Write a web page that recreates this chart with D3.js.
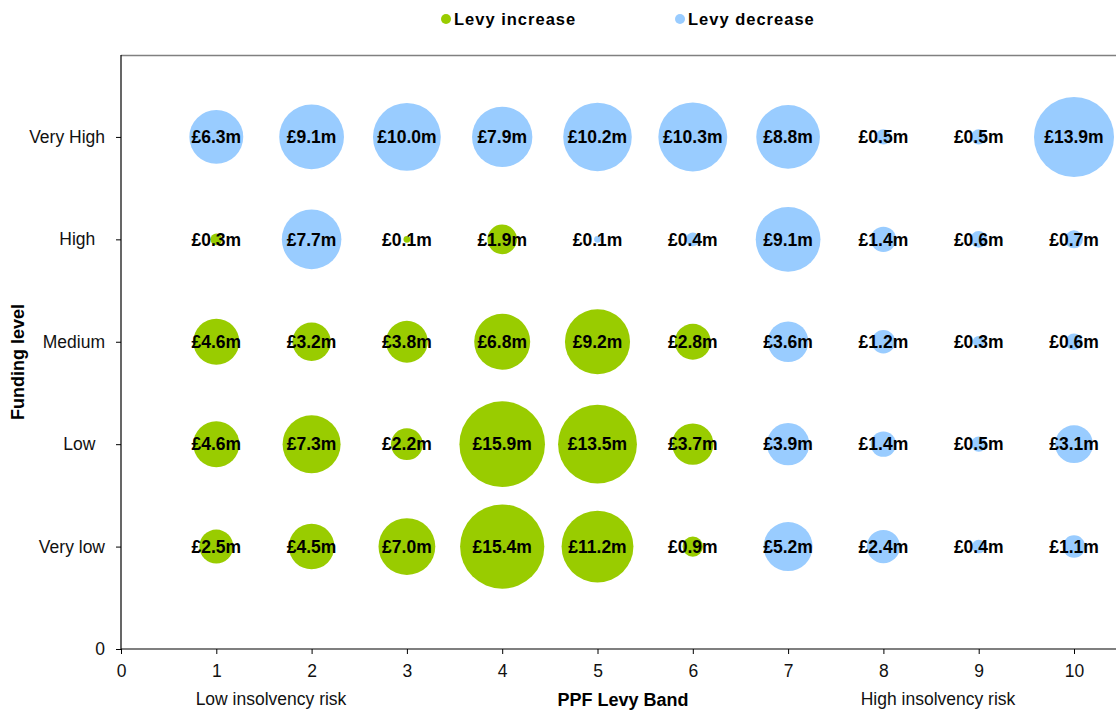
<!DOCTYPE html>
<html><head><meta charset="utf-8">
<script src="https://cdn.jsdelivr.net/npm/d3@7"></script>
<style>
body{margin:0;background:#fff;}
svg{display:block;font-family:"Liberation Sans",Arial,sans-serif;}
.ylab text{white-space:pre;}
</style></head>
<body><svg id="c" width="1116" height="713"></svg>
<script>
const bands = [1,2,3,4,5,6,7,8,9,10];
const levelLabels = ["0","Very low","Low  ","Medium","High  ","Very High"];
const xTicks = [0,1,2,3,4,5,6,7,8,9,10];
// values (£m) per funding level, bands 1..10; sign: "I" = increase, "D" = decrease
const veryHighVals = [6.3,9.1,10.0,7.9,10.2,10.3,8.8,0.5,0.5,13.9];
const veryHighType = ["D","D","D","D","D","D","D","D","D","D"];
const highVals = [0.3,7.7,0.1,1.9,0.1,0.4,9.1,1.4,0.6,0.7];
const highType = ["I","D","I","I","D","D","D","D","D","D"];
const mediumVals = [4.6,3.2,3.8,6.8,9.2,2.8,3.6,1.2,0.3,0.6];
const mediumType = ["I","I","I","I","I","I","D","D","D","D"];
const lowVals = [4.6,7.3,2.2,15.9,13.5,3.7,3.9,1.4,0.5,3.1];
const lowType = ["I","I","I","I","I","I","D","D","D","D"];
const veryLowVals = [2.5,4.5,7.0,15.4,11.2,0.9,5.2,2.4,0.4,1.1];
const veryLowType = ["I","I","I","I","I","I","D","D","D","D"];
const seriesNames = ["Levy increase","Levy decrease"];

const rows = [
  {level:1, vals:veryLowVals, types:veryLowType},
  {level:2, vals:lowVals, types:lowType},
  {level:3, vals:mediumVals, types:mediumType},
  {level:4, vals:highVals, types:highType},
  {level:5, vals:veryHighVals, types:veryHighType}
];
const points = [];
rows.forEach(r => bands.forEach((b,i) => points.push({band:b, level:r.level, v:r.vals[i], t:r.types[i]})));

const colors = {I:"#99CC00", D:"#99CCFF"};
const svg = d3.select("#c");
const x = d3.scaleLinear().domain([0,10.5]).range([121,121+10.5*95.3]);
const y = d3.scaleLinear().domain([0,5.8]).range([649,55]);
const r = d3.scaleSqrt().domain([0,15.9]).range([0,42.8]);
const FONT = "Liberation Sans, Arial, sans-serif";

// top border
svg.append("line").attr("x1",121).attr("x2",1116).attr("y1",55.5).attr("y2",55.5)
  .attr("stroke","#808080").attr("stroke-width",1.5);

// x axis
const xa = svg.append("g").attr("transform","translate(0,649)")
  .call(d3.axisBottom(x).tickValues(xTicks).tickSize(5).tickPadding(11).tickFormat(d3.format("d")));
xa.select(".domain").attr("stroke","#000").attr("stroke-width",1.2).attr("d","M121,0H1116");
xa.selectAll("text").attr("font-size",17.5).attr("fill","#111").attr("font-family",FONT);

// y axis
const ya = svg.append("g").attr("class","ylab").attr("transform","translate(121,0)")
  .call(d3.axisLeft(y).tickValues([0,1,2,3,4,5]).tickSize(5).tickPadding(11).tickFormat(d => levelLabels[d]));
ya.select(".domain").attr("stroke","#000").attr("stroke-width",1.2).attr("d","M0,55V649");
ya.selectAll("text").attr("font-size",17.5).attr("fill","#111").attr("font-family",FONT);

// bubbles
svg.append("g").selectAll("circle").data(points).join("circle")
  .attr("cx",d=>x(d.band)).attr("cy",d=>y(d.level)).attr("r",d=>r(d.v))
  .attr("fill",d=>colors[d.t]);

// labels
svg.append("g").selectAll("text").data(points).join("text")
  .attr("x",d=>x(d.band)).attr("y",d=>y(d.level)).attr("dy","0.36em")
  .attr("text-anchor","middle").attr("font-size",17.5).attr("font-weight","bold").attr("fill","#000")
  .text(d=>"£"+d.v.toFixed(1)+"m");

// axis titles
svg.append("text").attr("transform","translate(24,362) rotate(-90)").attr("text-anchor","middle")
  .attr("font-size",18).attr("font-weight","bold").text("Funding level");
svg.append("text").attr("x",623).attr("y",706).attr("text-anchor","middle")
  .attr("font-size",18).attr("font-weight","bold").text("PPF Levy Band");
svg.append("text").attr("x",271).attr("y",705).attr("text-anchor","middle")
  .attr("font-size",17.5).attr("fill","#111").text("Low insolvency risk");
svg.append("text").attr("x",938).attr("y",705).attr("text-anchor","middle")
  .attr("font-size",17.5).attr("fill","#111").text("High insolvency risk");

// legend
const leg = [{name:seriesNames[0],c:colors.I,x:446},{name:seriesNames[1],c:colors.D,x:680}];
const lg = svg.append("g").selectAll("g").data(leg).join("g");
lg.append("circle").attr("cx",d=>d.x).attr("cy",19).attr("r",5).attr("fill",d=>d.c);
lg.append("text").attr("x",d=>d.x+8).attr("y",25).attr("font-size",16.5).attr("font-weight","bold")
  .attr("letter-spacing","1px").text(d=>d.name);
</script></body></html>
